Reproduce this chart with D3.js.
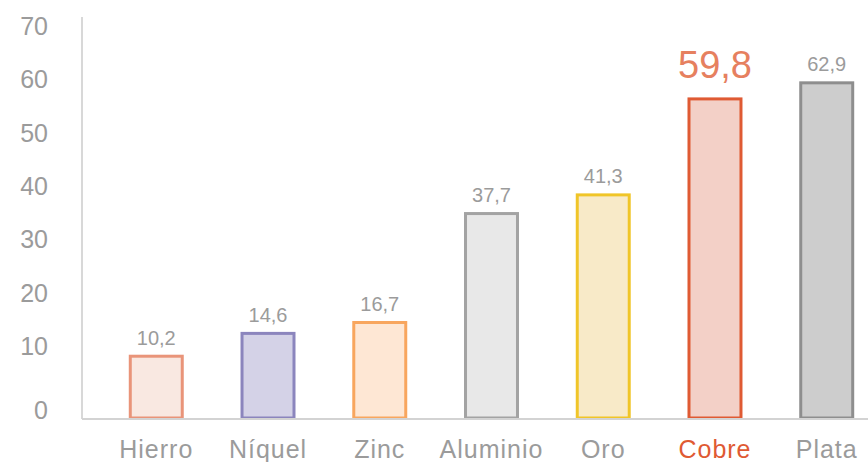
<!DOCTYPE html>
<html>
<head>
<meta charset="utf-8">
<script src="https://cdn.jsdelivr.net/npm/d3@7"></script>
<style>
  html, body { margin: 0; padding: 0; background: #fff; }
  svg { display: block; font-family: "Liberation Sans", Arial, sans-serif; }
</style>
</head>
<body>
<svg id="chart" width="868" height="462"></svg>
<script>
const categories = ["Hierro", "Níquel", "Zinc", "Aluminio", "Oro", "Cobre", "Plata"];
const values = [10.2, 14.6, 16.7, 37.7, 41.3, 59.8, 62.9];
const valueLabels = ["10,2", "14,6", "16,7", "37,7", "41,3", "59,8", "62,9"];
const highlight = "Cobre";
const tickValues = [0, 10, 20, 30, 40, 50, 60, 70];
const strokeColors = ["#e99479", "#8b85bd", "#f8a65e", "#a3a3a3", "#f0c528", "#df5a33", "#8e8e8e"];
const fillColors = ["#f9e8e1", "#d4d2e7", "#fee7d4", "#e8e8e8", "#f8eac8", "#f3d0c7", "#cdcdcd"];

const svg = d3.select("#chart");
const baseY = 418;

const x = d3.scaleBand()
  .domain(categories)
  .range([100.4, 882.6])
  .paddingInner(0.508)
  .paddingOuter(0.254);

const y = d3.scaleLinear().domain([-2, 70]).range([baseY, 44.5]);
const yTicks = d3.scaleLinear().domain([0, 10, 70]).range([410, 346, 26]);

// axes lines
svg.append("line")
  .attr("x1", 82).attr("x2", 82).attr("y1", 17).attr("y2", baseY + 1)
  .attr("stroke", "#d8d8d8").attr("stroke-width", 2);

// y tick labels
svg.append("g").selectAll("text").data(tickValues).join("text")
  .attr("x", 48)
  .attr("y", d => yTicks(d))
  .attr("dy", "0.36em")
  .attr("text-anchor", "end")
  .attr("font-size", 25)
  .attr("fill", "#9b9b9b")
  .text(d => d);

const data = categories.map((c, i) => ({ c, v: values[i], label: valueLabels[i], stroke: strokeColors[i], fill: fillColors[i] }));

// bars
svg.append("g").selectAll("rect").data(data).join("rect")
  .attr("x", d => x(d.c) + 1.5)
  .attr("y", d => y(d.v) + 1.5)
  .attr("width", x.bandwidth() - 3)
  .attr("height", d => baseY - y(d.v) - 1.5)
  .attr("fill", d => d.fill)
  .attr("stroke", d => d.stroke)
  .attr("stroke-width", 3);

// baseline
svg.append("line")
  .attr("x1", 82).attr("x2", 868).attr("y1", baseY + 1).attr("y2", baseY + 1)
  .attr("stroke", "#d3d3d3").attr("stroke-width", 2);

// value labels
svg.append("g").selectAll("text").data(data).join("text")
  .attr("x", d => x(d.c) + x.bandwidth() / 2)
  .attr("y", d => d.c === highlight ? y(d.v) - 19 : y(d.v) - 10)
  .attr("text-anchor", "middle")
  .attr("font-size", d => d.c === highlight ? 38 : 20)
  .attr("fill", d => d.c === highlight ? "#e6805f" : "#9b9b9b")
  .text(d => d.label);

// category labels
svg.append("g").selectAll("text").data(data).join("text")
  .attr("x", d => x(d.c) + x.bandwidth() / 2)
  .attr("y", 458)
  .attr("text-anchor", "middle")
  .attr("font-size", 25)
  .attr("letter-spacing", 1)
  .attr("fill", d => d.c === highlight ? "#df5a33" : "#9b9b9b")
  .text(d => d.c);
</script>
</body>
</html>
